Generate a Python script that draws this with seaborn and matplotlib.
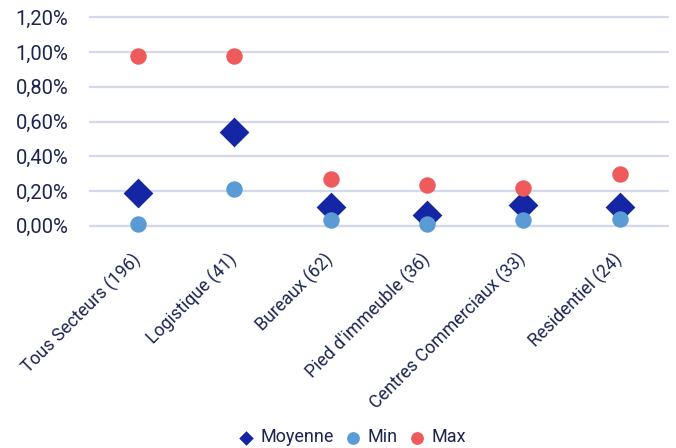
import matplotlib
matplotlib.use("Agg")
import matplotlib.pyplot as plt
import matplotlib.transforms as mtransforms
import seaborn as sns
import pandas as pd
from matplotlib.ticker import FuncFormatter

categories = ["Tous Secteurs (196)", "Logistique (41)", "Bureaux (62)",
              "Pied d'immeuble (36)", "Centres Commerciaux (33)", "Residentiel (24)"]
moyenne = [0.19, 0.54, 0.11, 0.06, 0.12, 0.11]
minimum = [0.01, 0.21, 0.03, 0.01, 0.035, 0.04]
maximum = [0.98, 0.98, 0.27, 0.235, 0.22, 0.30]
series = ["Moyenne", "Min", "Max"]
y_ticks = [0.0, 0.2, 0.4, 0.6, 0.8, 1.0, 1.2]

text_color = "#1b2551"
palette = {"Moyenne": "#1426a3", "Min": "#5b9bd5", "Max": "#ef5b5c"}
markers = {"Moyenne": "D", "Min": "o", "Max": "o"}
sizes = {"Moyenne": 230, "Min": 140, "Max": 140}
legend_sizes = {"Moyenne": 55, "Min": 85, "Max": 85}

df = pd.concat([
    pd.DataFrame({"Secteur": categories, "Valeur": vals, "Serie": name})
    for name, vals in zip(series, [moyenne, minimum, maximum])
], ignore_index=True)

sns.set_theme(style="white")
plt.rcParams["font.family"] = ["Roboto", "DejaVu Sans"]

fig = plt.figure(figsize=(6.76, 4.48), dpi=100)
ax = fig.add_axes([0.1331, 0.4962, 0.8550, 0.4650])

for name in series:
    sub = df[df["Serie"] == name]
    sns.scatterplot(data=sub, x="Secteur", y="Valeur", color=palette[name],
                    marker=markers[name], s=sizes[name], linewidth=0,
                    ax=ax, label=name, clip_on=False, zorder=3)

ax.set_xlim(-0.5, len(categories) - 0.5)
ax.set_ylim(0, 1.2)
ax.set_yticks(y_ticks)
ax.yaxis.set_major_formatter(FuncFormatter(lambda v, p: f"{v:.2f}%".replace(".", ",")))
ax.grid(axis="y", color="#d3d8ec", linewidth=1.6, zorder=0)
for gl in ax.get_ygridlines():
    gl.set_clip_on(False)
ax.set_axisbelow(True)
for sp in ax.spines.values():
    sp.set_visible(False)
ax.set_xlabel("")
ax.set_ylabel("")
ax.tick_params(axis="y", length=0, pad=15.5, labelsize=14.5, labelcolor=text_color)
ax.tick_params(axis="x", length=0, pad=0, labelsize=12.8, labelcolor=text_color)

# rotated sector labels, anchored at their tick a little below the axis
shift = mtransforms.ScaledTranslation(0.0, -0.31, fig.dpi_scale_trans)
for lbl in ax.get_xticklabels():
    lbl.set_rotation(45)
    lbl.set_ha("right")
    lbl.set_va("center")
    lbl.set_rotation_mode("anchor")
    lbl.set_transform(lbl.get_transform() + shift)

handles, labels = ax.get_legend_handles_labels()
leg = ax.legend(handles, labels, loc="center", bbox_to_anchor=(0.52, 0.024),
                bbox_transform=fig.transFigure, ncol=3, frameon=False,
                fontsize=13, handlelength=1.0, handletextpad=0.3,
                columnspacing=0.55, labelcolor=text_color)
for h, name in zip(leg.legend_handles, labels):
    h.set_sizes([legend_sizes[name]])

fig.savefig("out.png", dpi=100)
